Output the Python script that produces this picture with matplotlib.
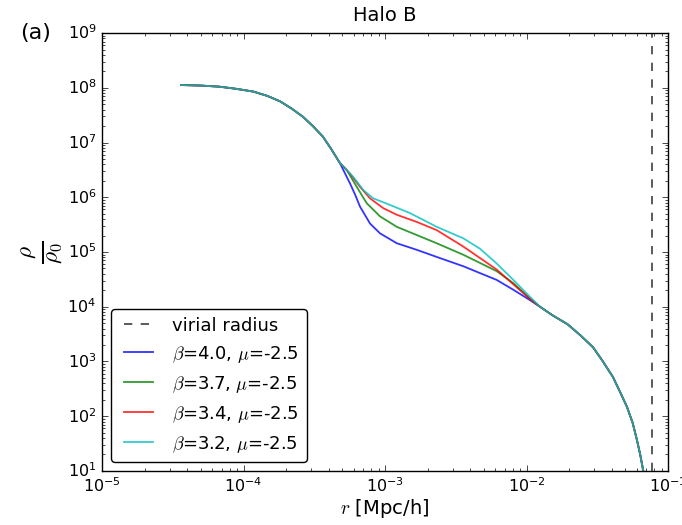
import numpy as np
import matplotlib
matplotlib.use("Agg")
import matplotlib.pyplot as plt

plt.style.use('classic')

# density profiles, read as log10(r) / log10(rho/rho0)
head_logr = [-4.44, -4.30, -4.17, -4.05, -3.93, -3.83, -3.74, -3.66, -3.58, -3.51, -3.44, -3.38, -3.32]
head_logp = [8.05, 8.04, 8.02, 7.98, 7.93, 7.85, 7.75, 7.62, 7.47, 7.30, 7.11, 6.88, 6.63]

blue_logr = [-3.247, -3.21, -3.177, -3.106, -3.035, -2.917, -2.776, -2.635, -2.447, -2.211, -2.093, -1.975]
blue_logp = [6.25, 6.04, 5.83, 5.52, 5.34, 5.16, 5.04, 4.91, 4.74, 4.49, 4.31, 4.12]

green_logr = [-3.271, -3.200, -3.129, -3.035, -2.917, -2.776, -2.635, -2.447, -2.211, -2.093, -1.975]
green_logp = [6.50, 6.19, 5.89, 5.65, 5.46, 5.31, 5.16, 4.95, 4.65, 4.43, 4.15]

red_logr = [-3.247, -3.177, -3.106, -3.012, -2.917, -2.776, -2.635, -2.447, -2.211, -2.093, -1.975]
red_logp = [6.43, 6.19, 5.98, 5.80, 5.68, 5.55, 5.40, 5.10, 4.68, 4.41, 4.14]

cyan_logr = [-3.224, -3.153, -3.083, -2.965, -2.823, -2.635, -2.447, -2.329, -2.211, -2.093, -1.975]
cyan_logp = [6.37, 6.13, 5.98, 5.86, 5.71, 5.46, 5.25, 5.06, 4.79, 4.49, 4.18]

tail_logr = [-1.905, -1.82, -1.71, -1.62, -1.53, -1.46, -1.39, -1.34, -1.29, -1.25, -1.22, -1.195, -1.175]
tail_logp = [4.00, 3.85, 3.68, 3.48, 3.26, 3.00, 2.72, 2.45, 2.17, 1.88, 1.57, 1.28, 1.00]

labels = [r'$\beta$=4.0, $\mu$=-2.5', r'$\beta$=3.7, $\mu$=-2.5',
          r'$\beta$=3.4, $\mu$=-2.5', r'$\beta$=3.2, $\mu$=-2.5']
colors = ['b', 'g', 'r', 'c']
r_vir = 0.0767

fig = plt.figure(figsize=(6.82, 5.25), dpi=100, facecolor='white')
ax = fig.add_axes([0.1496, 0.1029, 0.8299, 0.8342])

ax.axvline(r_vir, color='k', ls='--', lw=1.2, label='virial radius', alpha=0.75)

middles = [(blue_logr, blue_logp), (green_logr, green_logp),
           (red_logr, red_logp), (cyan_logr, cyan_logp)]
for (mr, mp), c, lab in zip(middles, colors, labels):
    lr = np.array(head_logr + mr + tail_logr)
    lp = np.array(head_logp + mp + tail_logp)
    ax.plot(10 ** lr, 10 ** lp, color=c, lw=1.3, alpha=0.8, label=lab)

ax.set_xscale('log')
ax.set_yscale('log')
ax.set_xlim(1e-5, 1e-1)
ax.set_ylim(1e1, 1e9)
ax.set_title('Halo B', fontsize=14, pad=9)
ax.set_xlabel(r'$r$ [Mpc/h]', fontsize=14, labelpad=1)
ax.set_ylabel(r'$\frac{\rho}{\rho_0}$', fontsize=24, labelpad=2)
ax.tick_params(labelsize=11.5)
ax.legend(loc='lower left', fancybox=True, fontsize=13, handlelength=2.2,
          borderaxespad=0.5)
fig.text(0.03, 0.925, '(a)', fontsize=16)

fig.savefig('out.png', dpi=100, facecolor='white')
